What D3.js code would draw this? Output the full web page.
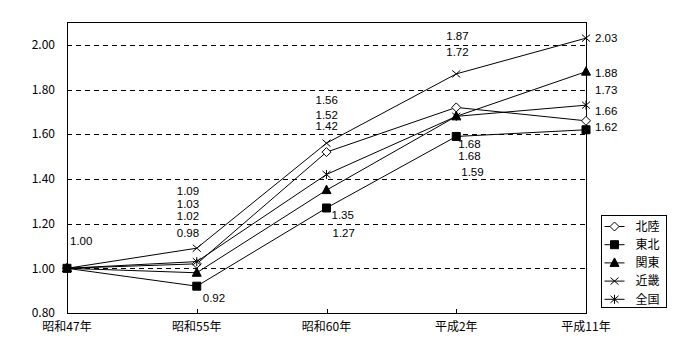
<!DOCTYPE html>
<html>
<head>
<meta charset="utf-8">
<script src="https://cdn.jsdelivr.net/npm/d3@7"></script>
<style>
  body { margin: 0; background: #fff; }
  svg text { font-family: "Noto Sans CJK JP", "DejaVu Sans", sans-serif; font-size: 12px; fill: #000; }
  svg text.lb { font-family: "Liberation Sans", "DejaVu Sans", sans-serif; font-size: 11.5px; }
</style>
</head>
<body>
<svg width="700" height="360"></svg>
<script>
// categories (x axis)
const years = ["昭和47年", "昭和55年", "昭和60年", "平成2年", "平成11年"];
const yTicks = [0.80, 1.00, 1.20, 1.40, 1.60, 1.80, 2.00];

// series values
const hokuriku = [1.00, 1.02, 1.52, 1.72, 1.66];
const tohoku   = [1.00, 0.92, 1.27, 1.59, 1.62];
const kanto    = [1.00, 0.98, 1.35, 1.68, 1.88];
const kinki    = [1.00, 1.09, 1.56, 1.87, 2.03];
const zenkoku  = [1.00, 1.03, 1.42, 1.68, 1.73];

const series = [
  { name: "北陸", vals: hokuriku, mk: "diamond" },
  { name: "東北", vals: tohoku, mk: "square" },
  { name: "関東", vals: kanto, mk: "triangle" },
  { name: "近畿", vals: kinki, mk: "cross" },
  { name: "全国", vals: zenkoku, mk: "star" }
];

// label placement: [category index, series index, dx, dy] (offsets from the point)
const lbls = [
  [0, 1, 3, -27],
  [1, 3, -20, -57], [1, 4, -20, -58], [1, 0, -20, -48], [1, 2, -20, -40], [1, 1, 6, 12],
  [2, 3, -11, -43], [2, 0, -11, -37], [2, 4, -11, -48], [2, 2, 5, 25], [2, 1, 6, 25],
  [3, 3, -10, -38], [3, 0, -10, -55], [3, 2, 2, 28], [3, 4, 2, 40], [3, 1, 5, 36],
  [4, 3, 9, 0], [4, 2, 9, 1], [4, 4, 9, -15], [4, 0, 9, -10], [4, 1, 9, -3]
];

const sv = d3.select("svg");
const x = d3.scalePoint().domain(years).range([67, 586]);
const y = d3.scaleLinear().domain([0.8, 2.1]).range([313, 22.5]);

// gridlines
sv.append("g").selectAll("line")
  .data(yTicks.filter(function (t) { return t > 0.8; }))
  .enter().append("line")
  .attr("x1", 67).attr("x2", 586)
  .attr("y1", function (d) { return Math.round(y(d)) + 0.5; })
  .attr("y2", function (d) { return Math.round(y(d)) + 0.5; })
  .attr("stroke", "#000").attr("stroke-width", 1)
  .attr("stroke-dasharray", "5,4");

// frame
sv.append("rect")
  .attr("x", 67.5).attr("y", 22.5)
  .attr("width", 586 - 67).attr("height", Math.round(y(0.8)) - 22)
  .attr("fill", "none").attr("stroke", "#000");

// y labels
sv.append("g").selectAll("text")
  .data(yTicks).enter().append("text")
  .attr("x", 55).attr("y", function (d) { return y(d); })
  .attr("dy", "0.35em")
  .attr("text-anchor", "end")
  .text(function (d) { return d.toFixed(2); });

// x ticks (inward) and labels
sv.append("g").selectAll("line")
  .data(years.slice(1, -1)).enter().append("line")
  .attr("x1", function (d) { return Math.round(x(d)) + 0.5; })
  .attr("x2", function (d) { return Math.round(x(d)) + 0.5; })
  .attr("y1", 313).attr("y2", 309)
  .attr("stroke", "#000");

sv.append("g").selectAll("text")
  .data(years).enter().append("text")
  .attr("x", function (d) { return x(d); })
  .attr("y", 327).attr("dy", "0.35em")
  .attr("text-anchor", "middle")
  .text(function (d) { return d; });

// marker shapes
function mpath(k) {
  if (k === "diamond") return "M0,-4.5L4.5,0L0,4.5L-4.5,0Z";
  if (k === "square") return "M-4,-4H4V4H-4Z";
  if (k === "triangle") return "M0,-5L4.5,3.5H-4.5Z";
  if (k === "cross") return "M-4,-3.5L4,3.5M-4,3.5L4,-3.5";
  return "M-4,-3.5L4,3.5M-4,3.5L4,-3.5M0,-4.5V4.5";
}
function mfill(k) {
  if (k === "diamond") return "#fff";
  if (k === "square" || k === "triangle") return "#000";
  return "none";
}

const line = d3.line()
  .x(function (d, i) { return x(years[i]); })
  .y(function (d) { return y(d); });

const gs = sv.append("g").selectAll("g")
  .data(series).enter().append("g");

gs.append("path")
  .attr("d", function (s) { return line(s.vals); })
  .attr("fill", "none").attr("stroke", "#000").attr("stroke-width", 1);

gs.each(function (s) {
  d3.select(this).selectAll("path.m")
    .data(s.vals).enter().append("path")
    .attr("class", "m")
    .attr("transform", function (d, i) { return "translate(" + x(years[i]) + "," + y(d) + ")"; })
    .attr("d", mpath(s.mk))
    .attr("fill", mfill(s.mk))
    .attr("stroke", "#000").attr("stroke-width", 1);
});

// data labels
sv.append("g").selectAll("text")
  .data(lbls).enter().append("text")
  .attr("class", "lb")
  .attr("x", function (l) { return x(years[l[0]]) + l[2]; })
  .attr("y", function (l) { return y(series[l[1]].vals[l[0]]) + l[3]; })
  .attr("dy", "0.35em")
  .text(function (l) { return series[l[1]].vals[l[0]].toFixed(2); });

// legend
const lg = sv.append("g").attr("transform", "translate(601.5,215.5)");
lg.append("rect").attr("width", 65).attr("height", 92)
  .attr("fill", "#fff").attr("stroke", "#000");
const li = lg.selectAll("g").data(series).enter().append("g")
  .attr("transform", function (s, i) { return "translate(0," + (11 + i * 18.2) + ")"; });
li.append("line").attr("x1", 3).attr("x2", 23).attr("stroke", "#000");
li.append("path").attr("transform", "translate(13,0)")
  .attr("d", function (s) { return mpath(s.mk); })
  .attr("fill", function (s) { return mfill(s.mk); })
  .attr("stroke", "#000");
li.append("text").attr("x", 34).attr("dy", "0.35em")
  .text(function (s) { return s.name; });
</script>
</body>
</html>
